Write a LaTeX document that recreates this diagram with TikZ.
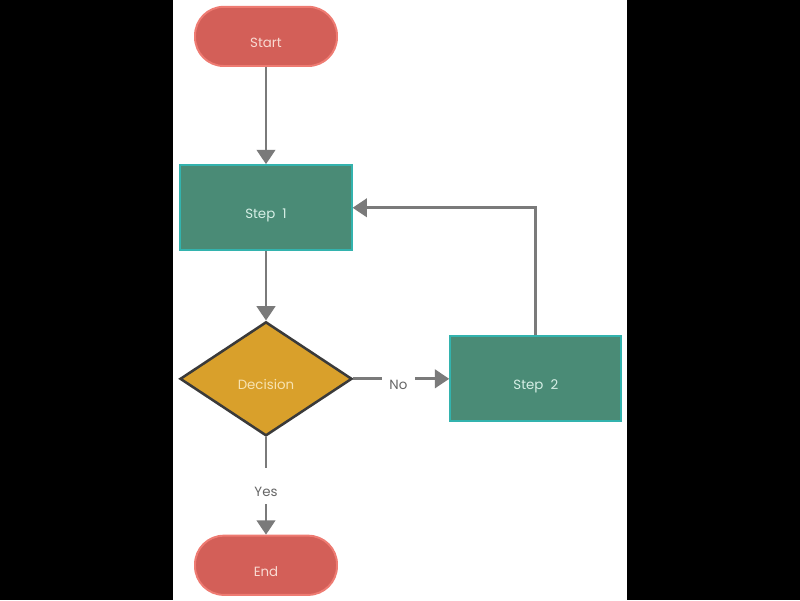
\documentclass[tikz,border=0pt]{standalone}
\usepackage{fontspec}
\setmainfont{Poppins}
\usepackage{xcolor}
\usepackage{tikz}
\usetikzlibrary{positioning,arrows.meta,shapes.geometric}

\definecolor{termfill}{HTML}{D35F58}
\definecolor{termline}{HTML}{EE7B72}
\definecolor{termtext}{HTML}{F9DAD2}
\definecolor{stepfill}{HTML}{4A8B76}
\definecolor{stepline}{HTML}{33B3AE}
\definecolor{steptext}{HTML}{D6EFE6}
\definecolor{decfill}{HTML}{D9A02B}
\definecolor{decline}{HTML}{3A3A3A}
\definecolor{dectext}{HTML}{F7E3B2}
\definecolor{arrgray}{HTML}{7A7A7A}
\definecolor{lbltext}{HTML}{666666}

\begin{document}
\begin{tikzpicture}[
    every node/.style={font=\fontsize{9.5}{11}\selectfont, text height=0.55cm, text depth=0pt},
    term/.style={rectangle, rounded corners=0.72cm, draw=termline, line width=1.4pt,
                 fill=termfill, text=termtext, minimum width=3.55cm, minimum height=1.48cm},
    stepbox/.style={rectangle, draw=stepline, line width=1.4pt, fill=stepfill,
                    text=steptext, minimum width=4.28cm, minimum height=2.13cm},
    decide/.style={diamond, draw=decline, line width=1.8pt, fill=decfill, text=dectext,
                   inner sep=0pt, minimum width=4.3cm, minimum height=2.85cm},
    lbl/.style={fill=white, text=lbltext, inner sep=0.18cm},
    arr/.style={-{Triangle[length=0.36cm,width=0.46cm]}, line width=2.1pt, draw=arrgray}
]
\useasboundingbox (0,0) rectangle (20,-15);
\fill[black] (0,0) rectangle (20,-15);
\fill[white] (4.325,0) rectangle (15.675,-15);

\node[term] (start) at (6.65,-0.91) {Start};
\node[stepbox, below=2.43cm of start]  (step1) {Step\ \ 1};
\node[decide, below=1.73cm of step1]   (dec)   {Decision};
\node[stepbox, right=2.4cm of dec]     (step2) {Step\ \ 2};
\node[term, below=2.44cm of dec]       (end)   {End};

\draw[arr] (start) -- (step1);
\draw[arr] (step1) -- (dec);
\draw[arr] (dec) -- node[lbl, pos=0.47]{No} (step2);
\draw[arr] (dec) -- node[lbl]{Yes} (end);
\draw[arr] (step2.north) |- (step1.east);
\end{tikzpicture}
\end{document}
